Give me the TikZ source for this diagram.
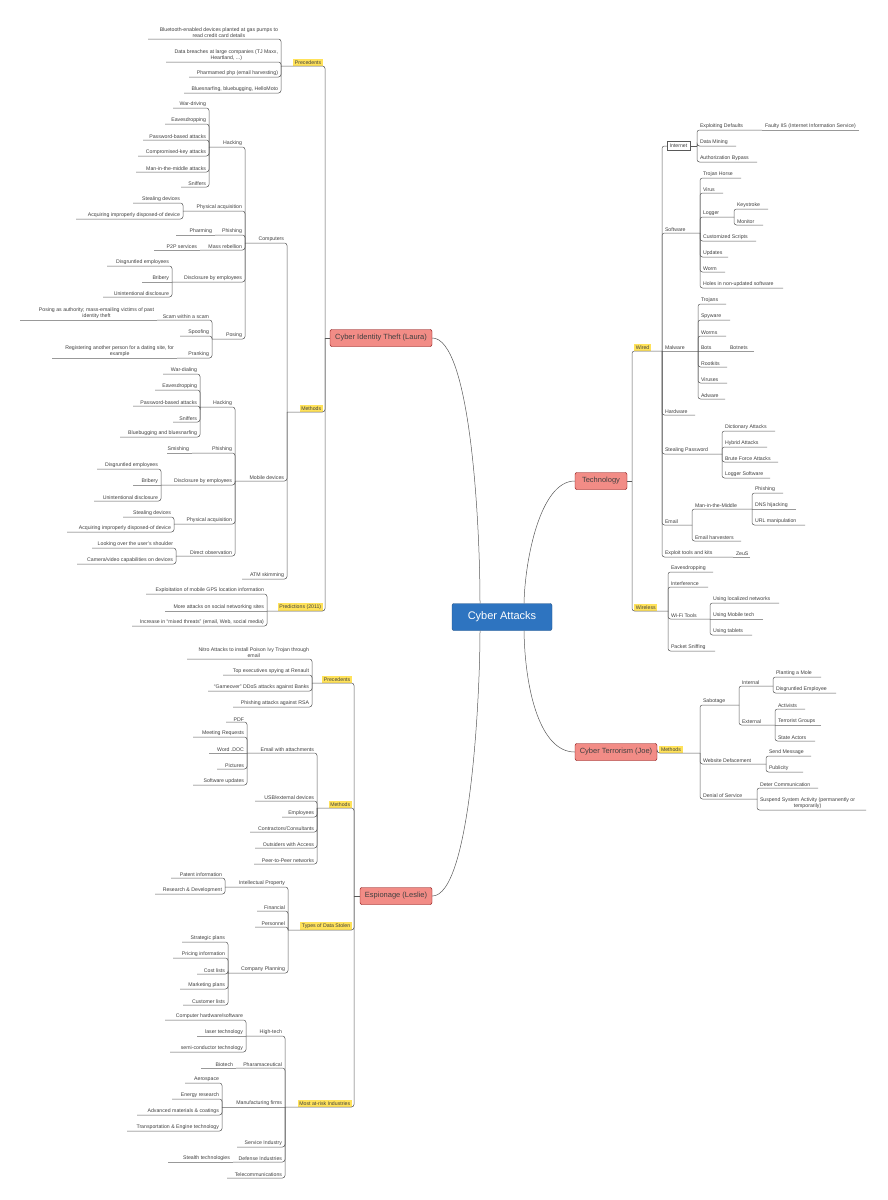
\documentclass[tikz,border=0pt]{standalone}
\usepackage{fontspec}
\setmainfont{Liberation Sans}
\definecolor{mainblue}{RGB}{46,116,192}
\definecolor{redfill}{RGB}{242,140,134}
\definecolor{yelfill}{RGB}{255,226,90}
\begin{document}
\begin{tikzpicture}[x=1pt,y=-1pt,
  txt/.style={inner sep=0.8pt,font=\fontsize{5.2}{6}\selectfont,text=black!75,align=center},
  yel/.style={fill=yelfill,inner sep=1.6pt},
  conn/.style={draw=black!65,line width=0.5pt,rounded corners=2.5pt},
  smc/.style={draw=black!40,line width=0.5pt},
  red/.style={draw=red!50!black,fill=redfill,rounded corners=2pt,minimum height=17pt,inner sep=3pt,font=\fontsize{7.5}{9}\selectfont,text=black!75},
  main/.style={draw=mainblue!70!black,fill=mainblue,text=white,rounded corners=2pt,minimum width=100pt,minimum height=27pt,font=\fontsize{11}{13}\selectfont}]
\newcommand\Lnd[6][]{\coordinate (#2) at (#5,#4);
  \node[txt,anchor=south east,#1] (#2-t) at ([xshift=-2pt]#3 |- #2) {#6};
  \draw[conn] (#2) -- (#3 |- #2) -- (#3);}
\newcommand\Rnd[6][]{\coordinate (#2) at (#5,#4);
  \node[txt,anchor=south west,#1] (#2-t) at ([xshift=2pt]#3 |- #2) {#6};
  \draw[conn] (#2) -- (#3 |- #2) -- (#3);}
\newcommand\Lsm[5]{\coordinate (#1) at (#4,#3);
  \node[txt,anchor=south east] (#1-t) at ([xshift=-2pt]#2 |- #1) {#5};
  \draw[smc] (#1) -- (#2);}
\newcommand\Rsm[5]{\coordinate (#1) at (#4,#3);
  \node[txt,anchor=south west] (#1-t) at ([xshift=2pt]#2 |- #1) {#5};
  \draw[smc] (#1) -- (#2);}
\useasboundingbox[fill=white] (0,0) rectangle (887,1200);
% central
\node[main] (C) at (502,617) {Cyber Attacks};
\node[red,minimum width=102pt] (Laura) at (381,338) {Cyber Identity Theft (Laura)};
\node[red,minimum width=72pt] (Leslie) at (396,896) {Espionage (Leslie)};
\node[red,minimum width=52pt] (Tech) at (601,481) {Technology};
\node[red,minimum width=82pt] (Terr) at (616,752) {Cyber Terrorism (Joe)};
\draw[conn] (Laura.east) .. controls (470,338) and (480,520) .. ([xshift=-22pt]C.north);
\draw[conn] (Leslie.east) .. controls (470,896) and (480,700) .. ([xshift=-22pt]C.south);
\draw[conn] (Tech.west) .. controls (540,481) and (525,560) .. ([xshift=22pt]C.north);
\draw[conn] (Terr.west) .. controls (540,752) and (525,690) .. ([xshift=22pt]C.south);
% ===== Laura
\coordinate (LB) at (325,338);
\draw[conn] (Laura.west) -- (LB);
\Lnd[yel]{LPrec}{LB}{66}{281}{Precedents}
\Lnd{lp1}{LPrec}{39}{148}{Bluetooth-enabled devices planted at gas pumps to\\read credit card details}
\Lnd{lp2}{LPrec}{62}{166}{Data breaches at large companies (TJ Maxx,\\Heartland, ...)}
\Lnd{lp3}{LPrec}{77}{189}{Pharmamed php (email harvesting)}
\Lnd{lp4}{LPrec}{93}{184}{Bluesnarfing, bluebugging, HelloMoto}
\Lnd[yel]{LMeth}{LB}{412}{287}{Methods}
\Lnd{Comp}{LMeth}{243}{245}{Computers}
\Lnd{Mob}{LMeth}{481}{235}{Mobile devices}
\Lnd{ATM}{LMeth}{579}{242}{ATM skimming}
\Lnd{cH}{Comp}{147}{209}{Hacking}
\Lnd{cH1}{cH}{108}{173}{War-driving}
\Lnd{cH2}{cH}{124}{165}{Eavesdropping}
\Lnd{cH3}{cH}{140}{143}{Password-based attacks}
\Lnd{cH4}{cH}{156}{138}{Compromised-key attacks}
\Lnd{cH5}{cH}{172}{136}{Man-in-the-middle attacks}
\Lnd{cH6}{cH}{187}{181}{Sniffers}
\Lnd{cPA}{Comp}{211}{183}{Physical acquisition}
\Lnd{cPA1}{cPA}{203}{133}{Stealing devices}
\Lnd{cPA2}{cPA}{219}{76}{Acquiring improperly disposed-of device}
\Lnd{cPh}{Comp}{235}{215}{Phishing}
\Lsm{cPh1}{cPh}{235}{176}{Pharming}
\Lnd{cMR}{Comp}{250}{200}{Mass rebellion}
\Lsm{cMR1}{cMR}{250}{154}{P2P services}
\Lnd{cDE}{Comp}{282}{172}{Disclosure by employees}
\Lnd{cDE1}{cDE}{266}{107}{Disgruntled employees}
\Lsm{cDE2}{cDE}{282}{142}{Bribery}
\Lnd{cDE3}{cDE}{297}{103}{Unintentional disclosure}
\Lnd{cPo}{Comp}{339}{212}{Posing}
\Lnd{cPo1}{cPo}{320}{157}{Scam within a scam}
\Lsm{cPo1a}{cPo1}{320}{20}{Posing as authority; mass-emailing victims of past\\identity theft}
\Lnd{cPo2}{cPo}{336}{180}{Spoofing}
\Lnd{cPo3}{cPo}{358}{177}{Pranking}
\Lsm{cPo3a}{cPo3}{358}{52}{Registering another person for a dating site, for\\example}
\Lnd{mH}{Mob}{407}{200}{Hacking}
\Lnd{mH1}{mH}{374}{163}{War-dialing}
\Lnd{mH2}{mH}{390}{155}{Eavesdropping}
\Lnd{mH3}{mH}{406}{133}{Password-based attacks}
\Lnd{mH4}{mH}{422}{173}{Sniffers}
\Lnd{mH5}{mH}{437}{120}{Bluebugging and bluesnarfing}
\Lnd{mPh}{Mob}{453}{192}{Phishing}
\Lsm{mPh1}{mPh}{453}{167}{Smishing}
\Lnd{mDE}{Mob}{485}{161}{Disclosure by employees}
\Lnd{mDE1}{mDE}{469}{97}{Disgruntled employees}
\Lsm{mDE2}{mDE}{485}{133}{Bribery}
\Lnd{mDE3}{mDE}{501}{94}{Unintentional disclosure}
\Lnd{mPA}{Mob}{524}{174}{Physical acquisition}
\Lnd{mPA1}{mPA}{517}{123}{Stealing devices}
\Lnd{mPA2}{mPA}{532}{67}{Acquiring improperly disposed-of device}
\Lnd{mDO}{Mob}{556}{176}{Direct observation}
\Lnd{mDO1}{mDO}{548}{92}{Looking over the user's shoulder}
\Lnd{mDO2}{mDO}{564}{77}{Camera/video capabilities on devices}
\Lnd[yel]{LPred}{LB}{611}{267}{Predictions (2011)}
\Lnd{lr1}{LPred}{594}{146}{Exploitation of mobile GPS location information}
\Lsm{lr2}{LPred}{611}{165}{More attacks on social networking sites}
\Lnd{lr3}{LPred}{626}{132}{Increase in ``mixed threats'' (email, Web, social media)}
% ===== Leslie
\coordinate (SB) at (354,896);
\draw[conn] (Leslie.west) -- (SB);
\Lnd[yel]{SPrec}{SB}{683}{312}{Precedents}
\Lnd{sp1}{SPrec}{659}{187}{Nitro Attacks to install Poison Ivy Trojan through\\email}
\Lnd{sp2}{SPrec}{675}{223}{Top executives spying at Renault}
\Lnd{sp3}{SPrec}{691}{208}{``Gameover'' DDoS attacks against Banks}
\Lnd{sp4}{SPrec}{707}{233}{Phishing attacks against RSA}
\Lnd[yel]{SMeth}{SB}{808}{317}{Methods}
\Lnd{sEA}{SMeth}{753}{247}{Email with attachments}
\Lnd{sEA1}{sEA}{722}{226}{PDF}
\Lnd{sEA2}{sEA}{737}{193}{Meeting Requests}
\Lsm{sEA3}{sEA}{753}{209}{Word .DOC}
\Lnd{sEA4}{sEA}{769}{217}{Pictures}
\Lnd{sEA5}{sEA}{785}{193}{Software updates}
\Lnd{sM2}{SMeth}{801}{255}{USB/external devices}
\Lnd{sM3}{SMeth}{817}{282}{Employees}
\Lnd{sM4}{SMeth}{832}{250}{Contractors/Consultants}
\Lnd{sM5}{SMeth}{848}{255}{Outsiders with Access}
\Lnd{sM6}{SMeth}{864}{254}{Peer-to-Peer networks}
\Lnd[yel]{STyp}{SB}{930}{288}{Types of Data Stolen}
\Lnd{sIP}{STyp}{887}{225}{Intellectual Property}
\Lnd{sIP1}{sIP}{878}{171}{Patent information}
\Lnd{sIP2}{sIP}{894}{155}{Research \& Development}
\Lnd{sFi}{STyp}{911}{257}{Financial}
\Lnd{sPe}{STyp}{927}{255}{Personnel}
\Lnd{sCP}{STyp}{973}{228}{Company Planning}
\Lnd{sCP1}{sCP}{942}{182}{Strategic plans}
\Lnd{sCP2}{sCP}{958}{173}{Pricing information}
\Lnd{sCP3}{sCP}{974}{197}{Cost lists}
\Lnd{sCP4}{sCP}{989}{180}{Marketing plans}
\Lnd{sCP5}{sCP}{1005}{183}{Customer lists}
\Lnd[yel]{SInd}{SB}{1107}{285}{Most at-risk Industries}
\Lnd{sHT}{SInd}{1036}{246}{High-tech}
\Lnd{sHT1}{sHT}{1020}{165}{Computer hardware/software}
\Lsm{sHT2}{sHT}{1036}{197}{laser technology}
\Lnd{sHT3}{sHT}{1052}{170}{semi-conductor technology}
\Lnd{sPh}{SInd}{1068}{236}{Pharamaceutical}
\Lsm{sPh1}{sPh}{1068}{201}{Biotech}
\Lsm{sMF}{SInd}{1107}{222}{Manufacturing firms}
\Lnd{sMF1}{sMF}{1083}{185}{Aerospace}
\Lnd{sMF2}{sMF}{1099}{172}{Energy research}
\Lnd{sMF3}{sMF}{1115}{137}{Advanced materials \& coatings}
\Lnd{sMF4}{sMF}{1131}{127}{Transportation \& Engine technology}
\Lnd{sSI}{SInd}{1147}{237}{Service Industry}
\Lnd{sDI}{SInd}{1162}{233}{Defense Industries}
\Lsm{sDI1}{sDI}{1162}{168}{Stealth technologies}
\Lnd{sTe}{SInd}{1178}{227}{Telecommunications}
% ===== Technology
\coordinate (TB) at (632,481);
\draw[conn] (Tech.east) -- (TB);
\Rnd[yel]{Wired}{TB}{351}{662}{Wired}
\node[txt,draw=black!65,inner sep=2.5pt] (InetBox) at (678.5,146) {Internet};
\coordinate (Inet) at (697,146);
\draw[conn] (InetBox.west) -- (Wired |- InetBox.west) -- (Wired);
\draw[conn] (InetBox.east) -- (Inet);
\Rnd{i1}{Inet}{130}{762}{Exploiting Defaults}
\Rsm{i1a}{i1}{130}{859}{Faulty IIS (Internet Information Service)}
\Rnd{i2}{Inet}{146}{736}{Data Mining}
\Rnd{i3}{Inet}{162}{757}{Authorization Bypass}
\Rnd{Soft}{Wired}{233}{700}{Software}
\Rnd{so1}{Soft}{178}{741}{Trojan Horse}
\Rnd{so2}{Soft}{193}{723}{Virus}
\Rnd{so3}{Soft}{217}{734}{Logger}
\Rnd{so3a}{so3}{209}{768}{Keystroke}
\Rnd{so3b}{so3}{225}{763}{Monitor}
\Rnd{so4}{Soft}{241}{756}{Customized Scripts}
\Rnd{so5}{Soft}{257}{728}{Updates}
\Rnd{so6}{Soft}{272}{725}{Worm}
\Rnd{so7}{Soft}{288}{783}{Holes in non-updated software}
\Rsm{Malw}{Wired}{351}{698}{Malware}
\Rnd{ma1}{Malw}{304}{726}{Trojans}
\Rnd{ma2}{Malw}{320}{730}{Spyware}
\Rnd{ma3}{Malw}{336}{726}{Worms}
\Rsm{ma4}{Malw}{351}{727}{Bots}
\Rsm{ma4a}{ma4}{351}{754}{Botnets}
\Rnd{ma5}{Malw}{367}{727}{Rootkits}
\Rnd{ma6}{Malw}{383}{727}{Viruses}
\Rnd{ma7}{Malw}{399}{725}{Adware}
\Rnd{Hard}{Wired}{415}{695}{Hardware}
\Rnd{SP}{Wired}{454}{722}{Stealing Password}
\Rnd{sp1r}{SP}{431}{775}{Dictionary Attacks}
\Rnd{sp2r}{SP}{447}{767}{Hybrid Attacks}
\Rnd{sp3r}{SP}{462}{778}{Brute Force Attacks}
\Rnd{sp4r}{SP}{478}{770}{Logger Software}
\Rnd{Em}{Wired}{525}{692}{Email}
\Rnd{em1}{Em}{509}{752}{Man-in-the-Middle}
\Rnd{em1a}{em1}{493}{783}{Phishing}
\Rsm{em1b}{em1}{509}{796}{DNS hijacking}
\Rnd{em1c}{em1}{525}{805}{URL manipulation}
\Rnd{em2}{Em}{541}{741}{Email harvesters}
\Rnd{Ex}{Wired}{557}{733}{Exploit tools and kits}
\Rsm{Ex1}{Ex}{557}{750}{ZeuS}
\Rnd[yel]{Wless}{TB}{611}{668}{Wireless}
\Rnd{w1}{Wless}{572}{713}{Eavesdropping}
\Rnd{w2}{Wless}{587}{708}{Interference}
\Rnd{w3}{Wless}{619}{710}{Wi-Fi Tools}
\Rnd{w3a}{w3}{603}{779}{Using localized networks}
\Rsm{w3b}{w3}{619}{763}{Using Mobile tech}
\Rnd{w3c}{w3}{635}{752}{Using tablets}
\Rnd{w4}{Wless}{651}{715}{Packet Sniffing}
% ===== Terrorism
\coordinate (TT) at (Terr.east);
\Rnd[yel]{TM}{TT}{753}{700}{Methods}
\Rnd{Sab}{TM}{705}{739}{Sabotage}
\Rnd{Int}{Sab}{686}{773}{Internal}
\Rnd{Int1}{Int}{677}{821}{Planting a Mole}
\Rnd{Int2}{Int}{693}{836}{Disgruntled Employee}
\Rnd{Ext}{Sab}{725}{775}{External}
\Rnd{Ext1}{Ext}{709}{805}{Activists}
\Rsm{Ext2}{Ext}{725}{821}{Terrorist Groups}
\Rnd{Ext3}{Ext}{741}{815}{State Actors}
\Rnd{WD}{TM}{764}{766}{Website Defacement}
\Rnd{WD1}{WD}{756}{811}{Send Message}
\Rnd{WD2}{WD}{772}{803}{Publicity}
\Rnd{DoS}{TM}{799}{757}{Denial of Service}
\Rnd{DoS1}{DoS}{788}{818}{Deter Communication}
\Rnd{DoS2}{DoS}{810}{866}{Suspend System Activity (permanently or\\temporarily)}
\end{tikzpicture}
\end{document}
